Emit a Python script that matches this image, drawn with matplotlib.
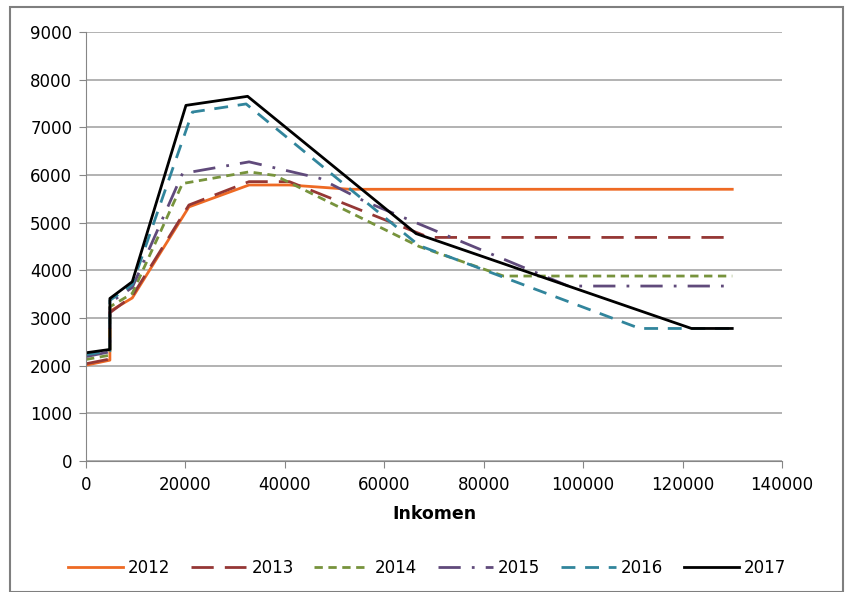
import matplotlib.pyplot as plt
from matplotlib.patches import Rectangle

# =====================================================
# DATA
# =====================================================

x_2012 = [0, 4800, 4800, 9300, 20700, 32800, 40900, 53000, 130000]
y_2012 = [2010, 2115, 3140, 3420, 5330, 5790, 5790, 5700, 5700]

x_2013 = [0, 4800, 4800, 9300, 20700, 32800, 40900, 69000, 130000]
y_2013 = [2040, 2140, 3110, 3460, 5370, 5860, 5860, 4690, 4690]

x_2014 = [0, 4800, 4800, 9300, 19400, 32800, 38000, 67000, 84000, 130000]
y_2014 = [2130, 2220, 3235, 3515, 5820, 6065, 5990, 4500, 3880, 3880]

x_2015 = [0, 4800, 4800, 9300, 19400, 32800, 47000, 56000, 97000, 130000]
y_2015 = [2190, 2290, 3320, 3640, 6030, 6275, 5930, 5450, 3670, 3670]

x_2016 = [0, 4800, 4800, 9300, 21400, 32200, 67000, 111400, 130000]
y_2016 = [2230, 2310, 3370, 3700, 7320, 7490, 4520, 2780, 2780]

x_2017 = [0, 4800, 4800, 9300, 20100, 32500, 66400, 121800, 130000]
y_2017 = [2270, 2340, 3410, 3760, 7460, 7650, 4770, 2780, 2780]

x_ticks = [0, 20000, 40000, 60000, 80000, 100000, 120000, 140000]
y_ticks = [0, 1000, 2000, 3000, 4000, 5000, 6000, 7000, 8000, 9000]

# =====================================================
# PLOT
# =====================================================

plt.rcParams['font.family'] = ['DejaVu Sans']

fig = plt.figure(figsize=(8.46, 5.92), dpi=100)
ax = fig.add_axes([0.1017, 0.2213, 0.8226, 0.7247])

ax.plot(x_2012, y_2012, color='#EE6A24', linewidth=2, label='2012')
ax.plot(x_2013, y_2013, color='#953735', linewidth=2,
        dashes=(8, 4), label='2013')
ax.plot(x_2014, y_2014, color='#77933C', linewidth=2,
        dashes=(3, 2), label='2014')
ax.plot(x_2015, y_2015, color='#604A7B', linewidth=2,
        dashes=(8, 4, 1, 4), label='2015')
ax.plot(x_2016, y_2016, color='#31859C', linewidth=2,
        dashes=(5, 3.5), label='2016')
ax.plot(x_2017, y_2017, color='black', linewidth=2, label='2017')

ax.set_xlim(0, 140000)
ax.set_ylim(0, 9000)
ax.set_xticks(x_ticks)
ax.set_yticks(y_ticks)
ax.tick_params(labelsize=12, length=5, color='#868686')
ax.tick_params(axis='x', pad=6)
ax.tick_params(axis='y', pad=5)

ax.yaxis.grid(True, color='#A6A6A6', linewidth=1.2)
ax.set_axisbelow(True)

for side in ['top', 'right']:
    ax.spines[side].set_visible(False)
for side in ['left', 'bottom']:
    ax.spines[side].set_color('#868686')

ax.set_xlabel("Inkomen", fontsize=12.5, fontweight='bold', labelpad=8)

ax.legend(loc='upper center', bbox_to_anchor=(0.49, -0.193), ncol=6,
          frameon=False, fontsize=12, handlelength=3.3,
          columnspacing=1.25, handletextpad=0.3)

# grey frame round the whole chart
fig.patches.append(Rectangle((0.012, 0.0), 0.985, 0.988,
                             transform=fig.transFigure, fill=False,
                             edgecolor='#7F7F7F', linewidth=1.5))

plt.savefig("out.png", dpi=100)
